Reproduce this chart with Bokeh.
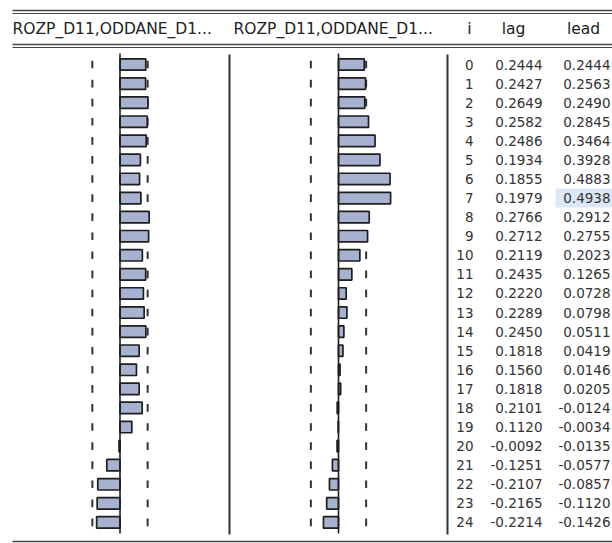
from bokeh.plotting import figure
from bokeh.models import Range1d
from bokeh.core.properties import value
from bokeh.embed import file_html
from bokeh.resources import INLINE

# ---- data ----
lags = list(range(25))
lag_vals = [0.2444, 0.2427, 0.2649, 0.2582, 0.2486, 0.1934, 0.1855, 0.1979,
            0.2766, 0.2712, 0.2119, 0.2435, 0.2220, 0.2289, 0.2450, 0.1818,
            0.1560, 0.1818, 0.2101, 0.1120, -0.0092, -0.1251, -0.2107,
            -0.2165, -0.2214]
lead_vals = [0.2444, 0.2563, 0.2490, 0.2845, 0.3464, 0.3928, 0.4883, 0.4938,
             0.2912, 0.2755, 0.2023, 0.1265, 0.0728, 0.0798, 0.0511, 0.0419,
             0.0146, 0.0205, -0.0124, -0.0034, -0.0135, -0.0577, -0.0857,
             -0.1120, -0.1426]
series_label = "ROZP_D11,ODDANE_D1..."
col_headers = ["i", "lag", "lead"]
bound = 0.262
highlight_row = 7

# ---- layout: base ranges expressed in reference-image pixels ----
W, H = 612, 543
RW, RH = 612, 543
ROW0, ROWSTEP = 64.0, 19.08
LAG0, LEAD0, PXU = 119.5, 338.0, 105.5
FONT = value("DejaVu Sans")
BAR_FILL = "#a7b1d0"
INK = "#1e1e1e"
TXT = "#333333"

p = figure(width=W, height=H, output_backend="svg", toolbar_location=None,
           x_range=Range1d(0, RW), y_range=Range1d(RH, 0),
           x_axis_location=None, y_axis_location=None,
           min_border=0, outline_line_color=None, background_fill_color="white",
           border_fill_color="white")
p.grid.visible = False
p.extra_y_ranges = {"rows": Range1d((RH - ROW0) / ROWSTEP, (0 - ROW0) / ROWSTEP)}
p.extra_x_ranges = {
    "lagx": Range1d((0 - LAG0) / PXU, (RW - LAG0) / PXU),
    "leadx": Range1d((0 - LEAD0) / PXU, (RW - LEAD0) / PXU),
}

# highlighted cell
p.quad(left=[555], right=[RW], bottom=[highlight_row + 0.5], top=[highlight_row - 0.5],
       y_range_name="rows", fill_color="#dbe8f5", line_color=None)

# horizontal rules
rules_y = [10, 13, 44, 47, 541]
rules_w = [1.6, 1.0, 1.6, 1.0, 1.6]
for yy, lw in zip(rules_y, rules_w):
    p.segment(x0=[12], x1=[RW], y0=[yy], y1=[yy], line_color="#444444", line_width=lw)

# confidence-bound dashes
for rng in ("lagx", "leadx"):
    for b in (-bound, bound):
        p.segment(x0=[b] * len(lags), x1=[b] * len(lags),
                  y0=[i - 0.2 for i in lags], y1=[i + 0.2 for i in lags],
                  x_range_name=rng, y_range_name="rows",
                  line_color="#333333", line_width=2)

# bars
p.hbar(y=lags, left=0, right=lag_vals, height=0.6, x_range_name="lagx",
       y_range_name="rows", fill_color=BAR_FILL, line_color=INK, line_width=1.7)
p.hbar(y=lags, left=0, right=lead_vals, height=0.6, x_range_name="leadx",
       y_range_name="rows", fill_color=BAR_FILL, line_color=INK, line_width=1.7)

# zero axes
for rng in ("lagx", "leadx"):
    p.segment(x0=[0], x1=[0], y0=[53], y1=[533], x_range_name=rng,
              line_color=INK, line_width=1.6)

# panel separators
p.segment(x0=[229, 447], x1=[229, 447], y0=[54, 54], y1=[534, 534],
          line_color="#333333", line_width=2)

# header
p.text(x=[12, 233], y=[28, 28], text=[series_label, series_label],
       text_font=FONT, text_font_size="15.5px", text_color="#222222",
       text_align="left", text_baseline="middle")
p.text(x=[469, 513, 583], y=[28, 28, 28], text=col_headers,
       text_font=FONT, text_font_size="15.5px", text_color="#222222",
       text_align="center", text_baseline="middle")

# table
p.text(x=[473] * len(lags), y=lags, text=[str(i) for i in lags],
       y_range_name="rows", text_font=FONT, text_font_size="13.5px",
       text_color=TXT, text_align="right", text_baseline="middle")
p.text(x=[542] * len(lags), y=lags, text=[f"{v:.4f}" for v in lag_vals],
       y_range_name="rows", text_font=FONT, text_font_size="13.5px",
       text_color=TXT, text_align="right", text_baseline="middle")
p.text(x=[610] * len(lags), y=lags, text=[f"{v:.4f}" for v in lead_vals],
       y_range_name="rows", text_font=FONT, text_font_size="13.5px",
       text_color=TXT, text_align="right", text_baseline="middle")

open("out.html", "w").write(file_html(p, INLINE))
